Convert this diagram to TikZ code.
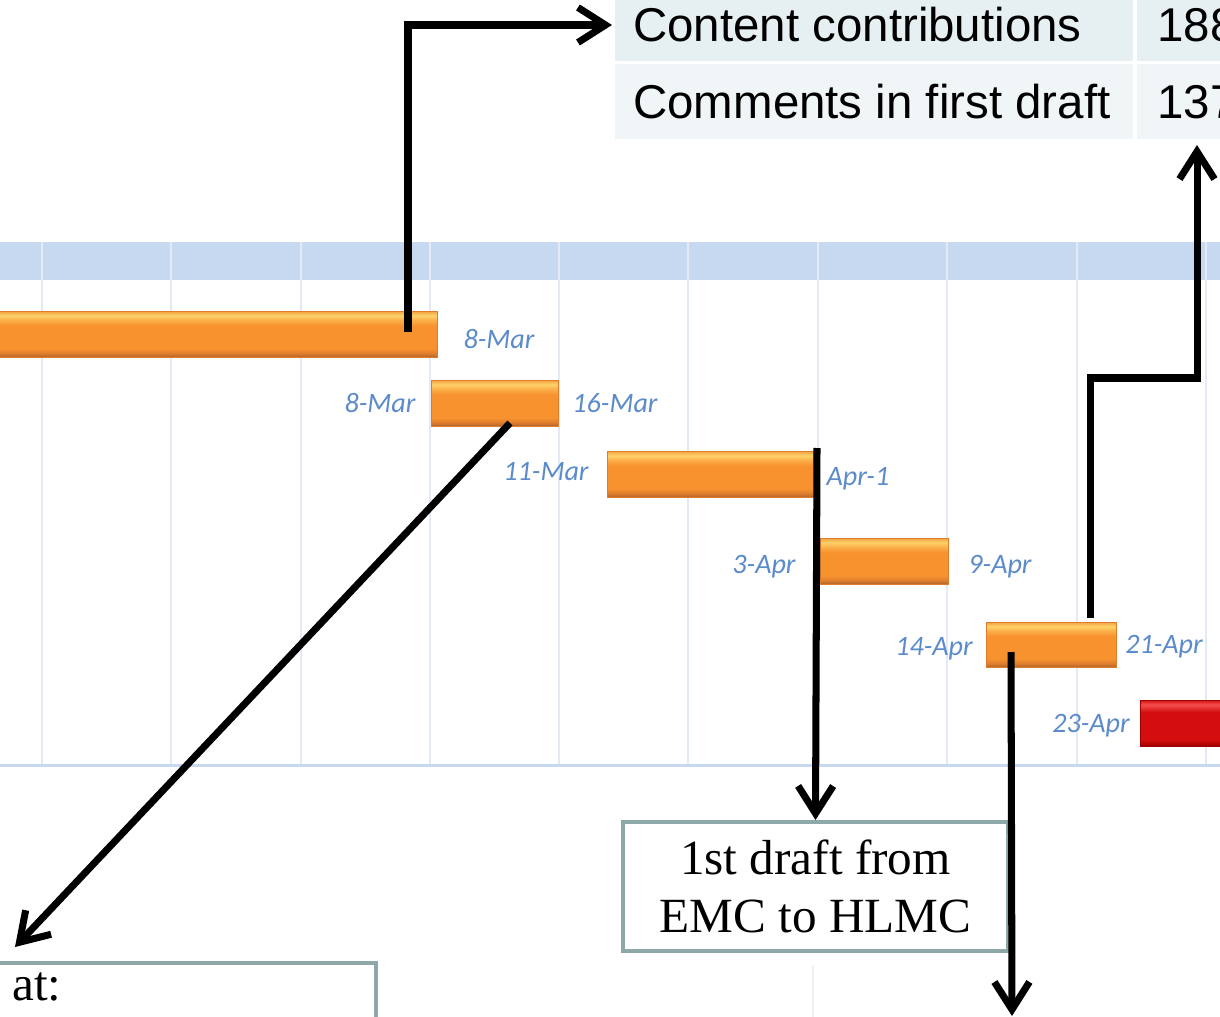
\documentclass[tikz,border=0pt]{standalone}
\usepackage{fontspec}
\setmainfont{Liberation Serif}
\newfontfamily\tablefont{Liberation Sans}
\newfontfamily\datefont{Carlito}
\usetikzlibrary{arrows.meta}

\definecolor{bandblue}{HTML}{C6D9F1}
\definecolor{gridblue}{HTML}{E3EAF5}
\definecolor{datecol}{HTML}{5B8BCB}
\definecolor{barEdge}{HTML}{F4A040}
\definecolor{barTop}{HTML}{FDD26A}
\definecolor{barLight}{HTML}{FBAE48}
\definecolor{barMid}{HTML}{F7922F}
\definecolor{barLow}{HTML}{DE7E2C}
\definecolor{barBot}{HTML}{B4652C}
\definecolor{redTop}{HTML}{F55050}
\definecolor{redMid}{HTML}{D40E0E}
\definecolor{redBot}{HTML}{A00000}
\definecolor{rowA}{HTML}{E6F0F2}
\definecolor{rowB}{HTML}{F0F6F8}
\definecolor{boxline}{HTML}{8EA7A9}

% TikZ fits the band 25bp..75bp of a shading to the path
\pgfdeclareverticalshading{barshade}{100bp}{color(0bp)=(barBot); color(25bp)=(barBot); color(29bp)=(barLow); color(34bp)=(barMid); color(59bp)=(barMid); color(65bp)=(barLight); color(70bp)=(barTop); color(75bp)=(barEdge); color(100bp)=(barEdge)}
\pgfdeclareverticalshading{redshade}{100bp}{color(0bp)=(redBot); color(25bp)=(redBot); color(32bp)=(redMid); color(62bp)=(redMid); color(70bp)=(redTop); color(75bp)=(redMid); color(100bp)=(redMid)}

\tikzset{
  tabtext/.style={font=\tablefont\fontsize{27}{27}\selectfont, anchor=base west, inner sep=0pt},
  datelbl/.style={font=\datefont\itshape\fontsize{16}{16}\selectfont, text=datecol, anchor=base, inner sep=0pt},
  gridline/.style={draw=gridblue, line width=0.8pt},
  taskbar/.style={shading=barshade, draw=barLow, line width=0.3pt},
  latebar/.style={shading=redshade, draw=redBot, line width=0.3pt},
  notebox/.style={draw=boxline, fill=white, line width=2.3pt},
  notetext/.style={font=\fontsize{28}{33}\selectfont, inner sep=0pt},
  conn/.style={line width=4pt, -{Straight Barb[length=5.5mm, width=7mm]}}
}

\begin{document}
\begin{tikzpicture}[x=0.02cm, y=-0.02cm]
    \useasboundingbox (0,0) rectangle (1220,1017);
    \clip (0,0) rectangle (1220,1017);

    % table at the top
    \fill[rowA] (615,-5) rectangle (1133,61);
    \fill[rowA] (1137,-5) rectangle (1230,61);
    \fill[rowB] (615,64) rectangle (1133,139);
    \fill[rowB] (1137,64) rectangle (1230,139);
    \node[tabtext] (contrib) at (633,42) {Content contributions};
    \node[tabtext] (contribnum) at (1157,42) {188};
    \node[tabtext] (comments) at (633,118) {Comments in first draft};
    \node[tabtext] (commentsnum) at (1157,118) {137};

    % chart
    \fill[bandblue] (0,242) rectangle (1220,280);
    \foreach \gx in {42,171,301,430,559,688,818,947,1077,1206}
        \draw[gridline] (\gx,242) -- (\gx,765);
    \draw[bandblue, line width=1.7pt] (0,765) -- (1220,765);

    \shade[taskbar] (-5,311) rectangle (437,357);
    \shade[taskbar] (431,380) rectangle (558,426);
    \shade[taskbar] (607,451) rectangle (813,497);
    \shade[taskbar] (820,538) rectangle (948,584);
    \shade[taskbar] (986,622) rectangle (1116,667);
    \shade[latebar] (1140,700) rectangle (1230,746);

    \node[datelbl] (end1) at (499,348) {8-Mar};
    \node[datelbl] (start2) at (380,412) {8-Mar};
    \node[datelbl] (end2) at (615,412) {16-Mar};
    \node[datelbl] (start3) at (546,480) {11-Mar};
    \node[datelbl] (end3) at (858,485) {Apr-1};
    \node[datelbl] (start4) at (764,573) {3-Apr};
    \node[datelbl] (end4) at (1000,573) {9-Apr};
    \node[datelbl] (start5) at (934,655) {14-Apr};
    \node[datelbl] (end5) at (1164,653) {21-Apr};
    \node[datelbl] (start6) at (1091,732) {23-Apr};

    % note boxes
    \draw[notebox] (-10,963) rectangle (376,1040);
    \node[notetext, anchor=base west] (attext) at (12,1000) {at:};
    \draw[black!6, line width=0.8pt] (813,965) -- (813,1017);
    \node[notebox, notetext, minimum width=7.7cm, minimum height=2.58cm, align=center]
        (draft) at (815.5,886.5) {1st draft from\\EMC to HLMC};

    % arrows
    \coordinate (a1) at (408,332);
    \coordinate (t1) at (612,25);
    \coordinate (a2) at (510,423);
    \coordinate (t2) at (15,947);
    \coordinate (a3) at (817,448);
    \coordinate (a4) at (1011,652);
    \coordinate (t4) at (1012,1016);
    \coordinate (a5) at (1090,618);
    \coordinate (t5) at (1197,145);
    \draw[conn] (a1) |- (t1);
    \draw[conn] (a2) -- (t2);
    \draw[conn] (a3) -- (draft.north);
    \draw[conn] (a4) -- (t4);
    \draw[conn] (a5) -- (1090,378) -- (1197,378) -- (t5);
\end{tikzpicture}
\end{document}
